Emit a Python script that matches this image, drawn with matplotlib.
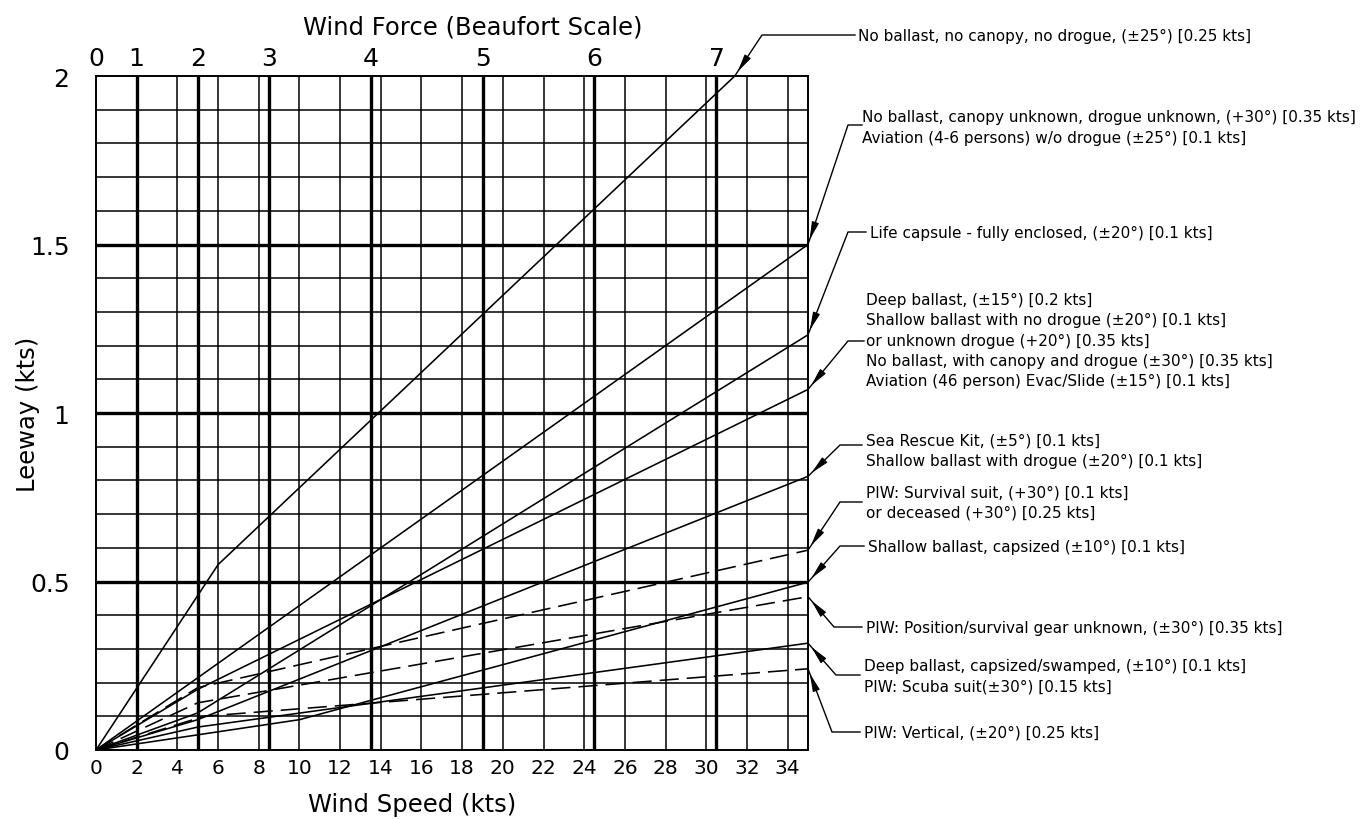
import matplotlib
matplotlib.use("Agg")
import numpy as np
import matplotlib.pyplot as plt
from matplotlib.lines import Line2D
from matplotlib.transforms import IdentityTransform

W_PX, H_PX = 1362, 820

# wind speed (kts) / leeway (kts) vertices
wind_nb_nc_nd = [0, 6, 31.4]
leeway_nb_nc_nd = [0, 0.55, 2.0]

wind_nb_unknown = [0, 35]
leeway_nb_unknown = [0, 1.5]

wind_capsule = [0, 5, 35]
leeway_capsule = [0, 0.11, 1.232]

wind_deep = [0, 5, 35]
leeway_deep = [0, 0.18, 1.07]

wind_srk = [0, 5, 35]
leeway_srk = [0, 0.09, 0.812]

wind_piw_suit = [0, 5, 35]
leeway_piw_suit = [0, 0.185, 0.593]

wind_shallow_caps = [0, 10, 35]
leeway_shallow_caps = [0, 0.09, 0.498]

wind_piw_unknown = [0, 5, 35]
leeway_piw_unknown = [0, 0.14, 0.455]

wind_deep_caps = [0, 5, 35]
leeway_deep_caps = [0, 0.068, 0.317]

wind_piw_vert = [0, 5.3, 35]
leeway_piw_vert = [0, 0.1, 0.241]

beaufort_numbers = ["0", "1", "2", "3", "4", "5", "6", "7"]
beaufort_speeds = [0, 2, 5, 8.5, 13.5, 19, 24.5, 30.5]
speed_ticks = list(range(0, 35, 2))
leeway_ticks = [0, 0.5, 1, 1.5, 2]
leeway_ticklabels = ["0", "0.5", "1", "1.5", "2"]

labels = [
    "No ballast, no canopy, no drogue, (±25°) [0.25 kts]",
    "No ballast, canopy unknown, drogue unknown, (+30°) [0.35 kts]\n"
    "Aviation (4-6 persons) w/o drogue (±25°) [0.1 kts]",
    "Life capsule - fully enclosed, (±20°) [0.1 kts]",
    "Deep ballast, (±15°) [0.2 kts]\n"
    "Shallow ballast with no drogue (±20°) [0.1 kts]\n"
    "or unknown drogue (+20°) [0.35 kts]\n"
    "No ballast, with canopy and drogue (±30°) [0.35 kts]\n"
    "Aviation (46 person) Evac/Slide (±15°) [0.1 kts]",
    "Sea Rescue Kit, (±5°) [0.1 kts]\n"
    "Shallow ballast with drogue (±20°) [0.1 kts]",
    "PIW: Survival suit, (+30°) [0.1 kts]\n"
    "or deceased (+30°) [0.25 kts]",
    "Shallow ballast, capsized (±10°) [0.1 kts]",
    "PIW: Position/survival gear unknown, (±30°) [0.35 kts]",
    "Deep ballast, capsized/swamped, (±10°) [0.1 kts]\n"
    "PIW: Scuba suit(±30°) [0.15 kts]",
    "PIW: Vertical, (±20°) [0.25 kts]",
]

series = [
    (wind_nb_nc_nd, leeway_nb_nc_nd, False),
    (wind_nb_unknown, leeway_nb_unknown, False),
    (wind_capsule, leeway_capsule, False),
    (wind_deep, leeway_deep, False),
    (wind_srk, leeway_srk, False),
    (wind_piw_suit, leeway_piw_suit, True),
    (wind_shallow_caps, leeway_shallow_caps, False),
    (wind_piw_unknown, leeway_piw_unknown, True),
    (wind_deep_caps, leeway_deep_caps, False),
    (wind_piw_vert, leeway_piw_vert, True),
]

# text position (px from top-left) and leader stub for each label
label_layout = [
    ((858, 36), [(855, 36), (762, 36)]),
    ((862, 128), [(862, 126), (848, 126)]),
    ((870, 233), [(866, 233), (848, 233)]),
    ((866, 341), [(864, 342), (848, 342)]),
    ((866, 451), [(862, 446), (840, 446)]),
    ((866, 503), [(862, 503), (840, 503)]),
    ((868, 547), [(864, 547), (840, 547)]),
    ((866, 628), [(862, 628), (834, 628)]),
    ((864, 677), [(860, 676), (836, 676)]),
    ((864, 733), [(860, 733), (832, 733)]),
]

fig = plt.figure(figsize=(W_PX / 100, H_PX / 100), dpi=100)
ax = fig.add_axes([96 / W_PX, 1 - 751 / H_PX, 712 / W_PX, 674 / H_PX])
ax.set_xlim(0, 35)
ax.set_ylim(0, 2)

# grid
for s in speed_ticks[1:]:
    ax.axvline(s, color="k", lw=1.1, zorder=1)
for s in beaufort_speeds[1:]:
    ax.axvline(s, color="k", lw=2.4, zorder=1)
for v in np.arange(0.1, 2.0, 0.1):
    ax.axhline(v, color="k", lw=1.1, zorder=1)
for v in [0.5, 1.0, 1.5]:
    ax.axhline(v, color="k", lw=2.4, zorder=1)
for sp in ax.spines.values():
    sp.set_linewidth(1.4)

# leeway lines
for w, l, dashed in series:
    ls = (0, (12, 5)) if dashed else "-"
    ax.plot(w, l, color="k", lw=1.15, ls=ls, zorder=3)

ax.set_xticks(speed_ticks)
ax.set_xticklabels([str(s) for s in speed_ticks])
ax.set_yticks(leeway_ticks)
ax.set_yticklabels(leeway_ticklabels)
ax.tick_params(axis="x", length=0, pad=6, labelsize=14.5)
ax.tick_params(axis="y", length=0, pad=19, labelsize=18)

top = ax.secondary_xaxis("top")
top.set_xticks(beaufort_speeds)
top.set_xticklabels(beaufort_numbers)
top.tick_params(length=0, pad=4, labelsize=18)
top.spines["top"].set_visible(False)

fig.text(473 / W_PX, 1 - 28 / H_PX, "Wind Force (Beaufort Scale)",
         ha="center", va="center", fontsize=17.5)
fig.text(412 / W_PX, 1 - 805 / H_PX, "Wind Speed (kts)",
         ha="center", va="center", fontsize=17.5)
fig.text(28 / W_PX, 1 - 414 / H_PX, "Leeway (kts)", rotation=90,
         ha="center", va="center", fontsize=17.5)

# labels with leaders and arrowheads
ident = IdentityTransform()
for (w, l, _), text, ((tx, ty), stub) in zip(series, labels, label_layout):
    fig.text(tx / W_PX, 1 - ty / H_PX, text, ha="left", va="center",
             fontsize=11, linespacing=1.42)
    ex, ey = ax.transData.transform((w[-1], l[-1]))
    pts = [(x, H_PX - y) for x, y in stub] + [(ex, ey)]
    xs, ys = zip(*pts)
    fig.add_artist(Line2D(xs, ys, color="k", lw=1.0, transform=ident))
    bx, by = pts[-2]
    d = np.hypot(bx - ex, by - ey)
    ux, uy = (bx - ex) / d, (by - ey) / d
    tip = (ex + ux * 5, ey + uy * 5)
    tail = (ex + ux * 20, ey + uy * 20)
    ax.annotate("", xy=tip, xytext=tail, xycoords="figure pixels",
                textcoords="figure pixels", annotation_clip=False,
                arrowprops=dict(arrowstyle="-|>,head_length=1.1,head_width=0.22",
                                color="k", lw=0.8, shrinkA=0, shrinkB=0))

fig.savefig("out.png", dpi=100, facecolor="white")
